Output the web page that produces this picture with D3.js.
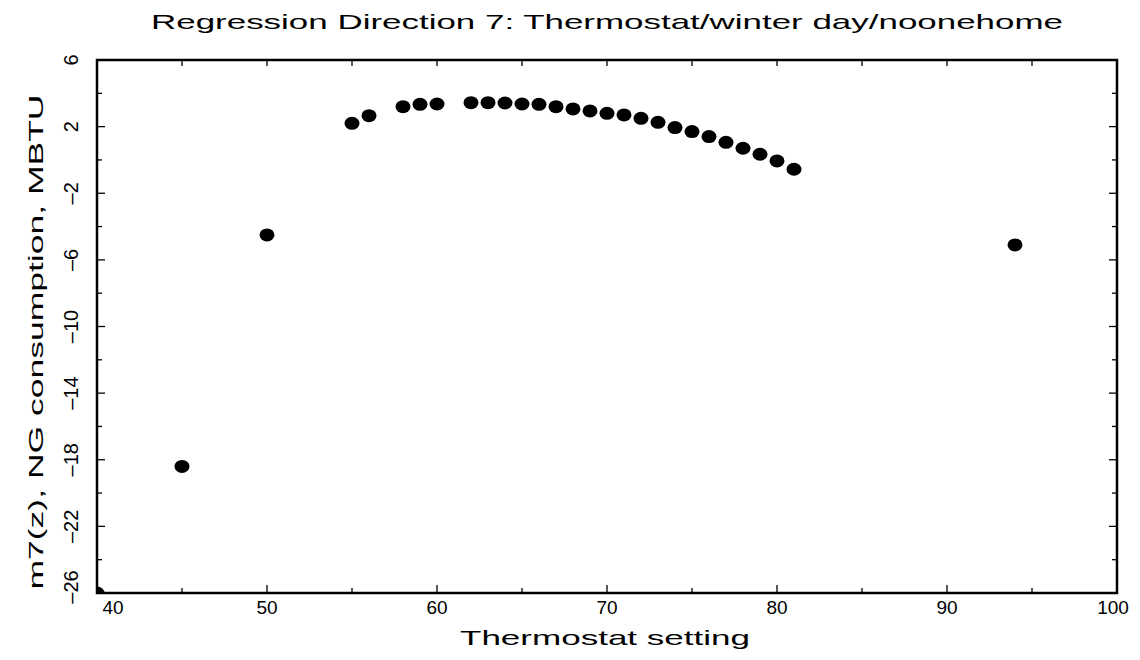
<!DOCTYPE html>
<html>
<head>
<meta charset="utf-8">
<script src="https://cdn.jsdelivr.net/npm/d3@7"></script>
<style>
  body { margin: 0; background: #fff; }
  svg text { font-family: "Liberation Sans", sans-serif; font-weight: normal; fill: #000; }
</style>
</head>
<body>
<svg id="chart" width="1140" height="660"></svg>
<script>
// data
const thermostat = [40, 45, 50, 55, 56, 58, 59, 60, 62, 63, 64, 65, 66, 67, 68, 69, 70, 71, 72, 73, 74, 75, 76, 77, 78, 79, 80, 81, 94];
const consumption = [-26, -18.4, -4.5, 2.2, 2.66, 3.2, 3.34, 3.36, 3.44, 3.44, 3.42, 3.36, 3.34, 3.2, 3.06, 2.94, 2.8, 2.7, 2.5, 2.26, 1.94, 1.7, 1.4, 1.06, 0.7, 0.34, -0.06, -0.56, -5.1];
const xMajor = [40, 50, 60, 70, 80, 90, 100];
const xMinor = [45, 55, 65, 75, 85, 95];
const yMajor = [6, 2, -2, -6, -10, -14, -18, -22, -26];
const yMinor = [4, 0, -4, -8, -12, -16, -20, -24];

const titleText = "Regression Direction 7: Thermostat/winter day/noonehome";
const xTitle = "Thermostat setting";
const yTitle = "m7(z),  NG consumption, MBTU";

const svg = d3.select("#chart");
const margin = {top: 60, right: 23, bottom: 67, left: 97};
const width = 1140 - margin.left - margin.right;
const height = 660 - margin.top - margin.bottom;

const x = d3.scaleLinear().domain([40, 100]).range([margin.left, margin.left + width]);
const y = d3.scaleLinear().domain([-26, 6]).range([margin.top + height, margin.top]);

svg.append("defs").append("clipPath").attr("id", "plotclip")
    .append("rect")
    .attr("x", margin.left).attr("y", margin.top)
    .attr("width", width).attr("height", height);

// title
svg.append("text")
    .attr("x", 607).attr("y", 29)
    .attr("text-anchor", "middle")
    .attr("font-size", 21)
    .attr("textLength", 912)
    .attr("lengthAdjust", "spacingAndGlyphs")
    .text(titleText);

// points
svg.append("g").attr("clip-path", "url(#plotclip)")
    .selectAll("ellipse")
    .data(thermostat.map((t, i) => ({t: t, v: consumption[i]})))
    .enter()
    .append("ellipse")
    .attr("cx", d => x(d.t))
    .attr("cy", d => y(d.v))
    .attr("rx", 7.5)
    .attr("ry", 6.5)
    .attr("fill", "#000");

// ticks, all pointing inward
const ticks = svg.append("g").attr("stroke", "#000").attr("stroke-width", 1.3);
function tickLines(vals, f) {
    vals.forEach(v => { const c = f(v); ticks.append("line").attr("x1", c[0]).attr("y1", c[1]).attr("x2", c[2]).attr("y2", c[3]); });
}
const x0 = x(40), x1 = x(100), y0 = y(-26), y1 = y(6);
tickLines(xMajor, v => [x(v), y0, x(v), y0 - 8]);
tickLines(xMinor, v => [x(v), y0, x(v), y0 - 5]);
tickLines(xMajor.concat(xMinor), v => [x(v), y1, x(v), y1 + 6]);
tickLines(yMajor, v => [x0, y(v), x0 + 8, y(v)]);
tickLines(yMinor, v => [x0, y(v), x0 + 5, y(v)]);
tickLines(yMajor, v => [x1, y(v), x1 - 8, y(v)]);
tickLines(yMinor, v => [x1, y(v), x1 - 5, y(v)]);

// frame
svg.append("rect")
    .attr("x", x0).attr("y", y1)
    .attr("width", x1 - x0).attr("height", y0 - y1)
    .attr("fill", "none").attr("stroke", "#000").attr("stroke-width", 2.5);

// x tick labels
svg.append("g").selectAll("text")
    .data(xMajor)
    .enter()
    .append("text")
    .attr("x", d => x(d) + (d === 40 ? 16 : d === 100 ? -4 : 0))
    .attr("y", 614)
    .attr("text-anchor", "middle")
    .attr("font-size", 19)
    .text(d => d);

// y tick labels, rotated
svg.append("g").selectAll("text")
    .data(yMajor)
    .enter()
    .append("text")
    .attr("transform", d => "translate(78," + (y(d) + (d === -26 ? -6 : 0)) + ") rotate(-90)")
    .attr("text-anchor", "middle")
    .attr("font-size", 20)
    .text(d => d < 0 ? "\u2013" + Math.abs(d) : d);

// axis titles
svg.append("text")
    .attr("x", 605).attr("y", 645)
    .attr("text-anchor", "middle")
    .attr("font-size", 21)
    .attr("textLength", 290)
    .attr("lengthAdjust", "spacingAndGlyphs")
    .text(xTitle);

svg.append("text")
    .attr("transform", "translate(43,342) rotate(-90)")
    .attr("text-anchor", "middle")
    .attr("font-size", 21)
    .attr("textLength", 495)
    .attr("lengthAdjust", "spacingAndGlyphs")
    .text(yTitle);
</script>
</body>
</html>
